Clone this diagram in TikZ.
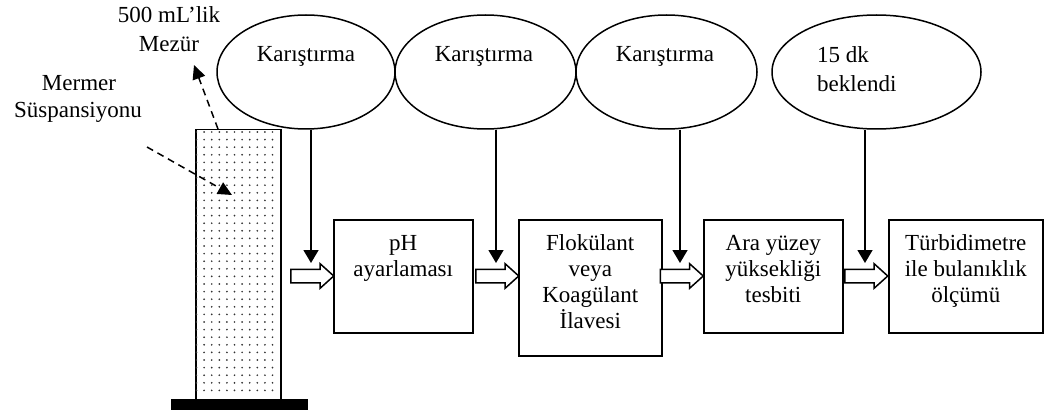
\documentclass[tikz,border=0pt]{standalone}
\usepackage{fontspec}
\setmainfont{Liberation Serif}
\usetikzlibrary{shapes.geometric,shapes.arrows,arrows.meta}
\begin{document}
\begin{tikzpicture}[x=1pt,y=-1pt,
  lw/.style={line width=1.5pt},
  txt/.style={font=\fontsize{23}{25.7}\selectfont, inner sep=0pt, anchor=base, align=center},
  ell/.style={ellipse, draw, lw, minimum width=178pt, minimum height=114pt, inner sep=0pt},
  stepbox/.style={rectangle, draw, lw, inner sep=0pt, anchor=north west, minimum height=113pt},
  blockarrow/.style={single arrow, draw, lw, fill=white, minimum height=43pt, inner xsep=0pt, inner ysep=6pt,
     single arrow head extend=5.5pt, single arrow tip angle=84},
  downarrow/.style={draw, lw, -{Triangle[width=15pt,length=13pt]}},
  dasharrow/.style={draw, lw, dash pattern=on 7pt off 5pt, -{Triangle[width=13pt,length=14pt]}}]
\useasboundingbox (0,0) rectangle (1044,417);

% measuring cylinder
\node[draw, lw, minimum width=85pt, minimum height=270pt, inner sep=0pt, anchor=north west] (cyl) at (195,129) {};
\foreach \i in {0,...,10}{
  \foreach \j in {0,...,34}{
    \fill[black!80] (196.5+7.6*\i,132+7.6*\j) circle (0.95pt);
  }
}
\node[fill=black, minimum width=137pt, minimum height=11pt, inner sep=0pt, anchor=north west] (base) at (171,399) {};

% labels
\node[txt] (lmz1) at (169,23) {500 mL’lik};
\node[txt] (lmz2) at (169,52) {Mezür};
\node[txt] (lmr1) at (79,91) {Mermer};
\node[txt] (lmr2) at (78,118) {Süspansiyonu};
\coordinate (mzs) at (218,129);
\coordinate (mze) at (194,65);
\coordinate (mrs) at (147,147);
\coordinate (mre) at (232,195);
\draw[dasharrow] (mzs) -- (mze);
\draw[dasharrow] (mrs) -- (mre);

% ellipses
\node[ell] (e1) at (306,72) {};
\node[ell, minimum width=181pt] (e2) at (485.5,72) {};
\node[ell, minimum width=181pt] (e3) at (666.5,72) {};
\node[ell, minimum width=209pt] (e4) at (876.5,72) {};
\node[txt] (k1) at (306,62) {Karıştırma};
\node[txt] (k2) at (484,62) {Karıştırma};
\node[txt] (k3) at (665,62) {Karıştırma};
\node[txt, anchor=base west] (w1) at (817,63) {15 dk};
\node[txt, anchor=base west] (w2) at (817,92) {beklendi};

% boxes
\node[stepbox, minimum width=139pt] (b1) at (333,219) {};
\node[stepbox, minimum width=143pt, minimum height=136pt] (b2) at (518,219) {};
\node[stepbox, minimum width=139pt] (b3) at (703,219) {};
\node[stepbox, minimum width=154pt] (b4) at (888,219) {};
\node[txt] (t1) at (b1.north |- 0,276.5) {pH\\ayarlaması};
\node[txt] (t2) at (b2.north |- 0,328) {Flokülant\\veya\\Koagülant\\İlavesi};
\node[txt] (t3) at (b3.north |- 0,302) {Ara yüzey\\yüksekliği\\tesbiti};
\node[txt] (t4) at (b4.north |- 0,302) {Türbidimetre\\ile bulanıklık\\ölçümü};

% block arrows
\node[blockarrow] (a1) at (308.5,276) {};
\node[blockarrow] (a2) at (493.5,276) {};
\node[blockarrow] (a3) at (678,276) {};
\node[blockarrow] (a4) at (862.5,276) {};

% vertical arrows
\coordinate (d1) at (311,263);
\coordinate (d2) at (496,263);
\coordinate (d3) at (680,263);
\coordinate (d4) at (865,263);
\draw[downarrow] (e1.south -| d1) -- (d1);
\draw[downarrow] (e2.south -| d2) -- (d2);
\draw[downarrow] (e3.south -| d3) -- (d3);
\draw[downarrow] (e4.south -| d4) -- (d4);
\end{tikzpicture}
\end{document}
